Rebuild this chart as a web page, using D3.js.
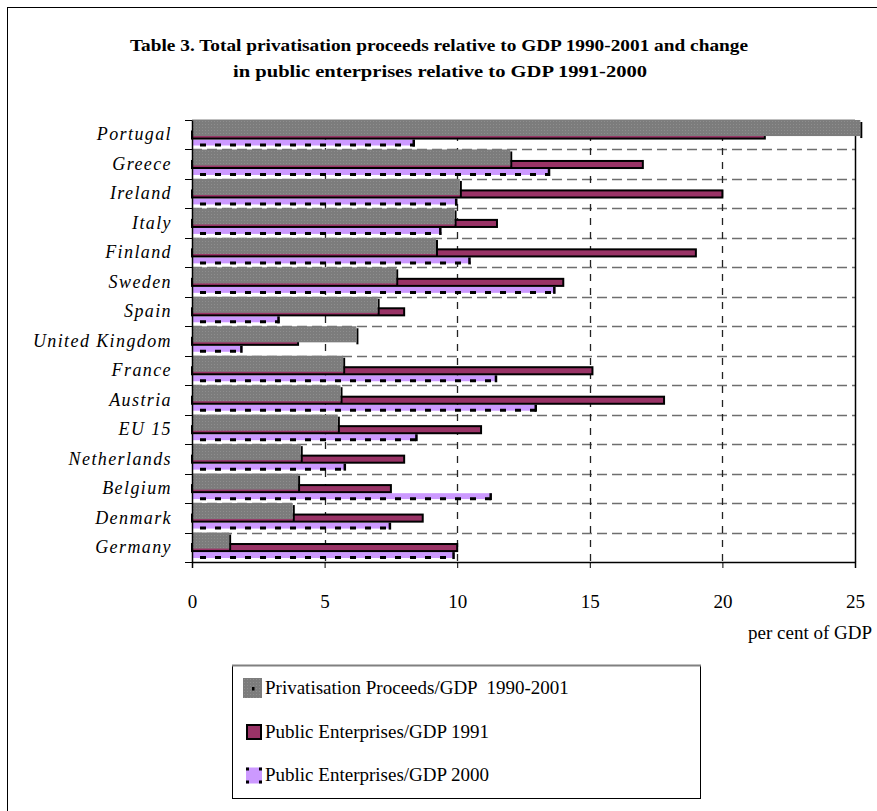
<!DOCTYPE html>
<html>
<head>
<meta charset="utf-8">
<script src="https://cdn.jsdelivr.net/npm/d3@7"></script>
<style>
  body { margin: 0; background: #fff; }
  svg text { font-family: "Liberation Serif", "Times New Roman", serif; fill: #000; }
</style>
</head>
<body>
<div id="chart"></div>
<script>
// categories top to bottom
const countries = ["Portugal", "Greece", "Ireland", "Italy", "Finland", "Sweden", "Spain",
    "United Kingdom", "France", "Austria", "EU 15", "Netherlands", "Belgium", "Denmark", "Germany"];

// Privatisation proceeds / GDP 1990-2001
const proceeds = [25.2, 12.0, 10.1, 9.9, 9.2, 7.7, 7.0, 6.2, 5.7, 5.6, 5.5, 4.1, 4.0, 3.8, 1.4];
// Public enterprises / GDP 1991
const pe1991 = [21.6, 17.0, 20.0, 11.5, 19.0, 14.0, 8.0, 4.0, 15.1, 17.8, 10.9, 8.0, 7.5, 8.7, 10.0];
// Public enterprises / GDP 2000
const pe2000 = [8.4, 13.5, 10.0, 9.4, 10.5, 13.7, 3.3, 1.9, 11.5, 13.0, 8.5, 5.8, 11.3, 7.5, 9.9];

const xTicks = [0, 5, 10, 15, 20, 25];
const seriesNames = ["Privatisation Proceeds/GDP  1990-2001", "Public Enterprises/GDP 1991", "Public Enterprises/GDP 2000"];

const W = 877, H = 811;
const plot = {left: 192, right: 855, top: 120, bottom: 562};

const svg = d3.select("#chart").append("svg")
    .attr("width", W)
    .attr("height", H);

// gray dotted fill like the original
const defs = svg.append("defs");
const pat = defs.append("pattern")
    .attr("id", "grayDots")
    .attr("width", 3).attr("height", 3)
    .attr("patternUnits", "userSpaceOnUse");
pat.append("rect").attr("width", 3).attr("height", 3).attr("fill", "#7c7c7c");
pat.append("rect").attr("x", 1).attr("y", 1).attr("width", 1).attr("height", 1).attr("fill", "#8e8e8e");

// outer frame
svg.append("line").attr("x1", 7.5).attr("y1", 7).attr("x2", 7.5).attr("y2", H).attr("stroke", "#000");
svg.append("line").attr("x1", 7).attr("y1", 7.5).attr("x2", W).attr("y2", 7.5).attr("stroke", "#000");

// title
svg.append("text")
    .attr("x", 439).attr("y", 51)
    .attr("text-anchor", "middle")
    .style("font-size", "17px").style("font-weight", "bold")
    .attr("textLength", 618).attr("lengthAdjust", "spacingAndGlyphs")
    .text("Table 3. Total privatisation proceeds relative to GDP 1990-2001 and change");
svg.append("text")
    .attr("x", 440).attr("y", 77)
    .attr("text-anchor", "middle")
    .style("font-size", "17px").style("font-weight", "bold")
    .attr("textLength", 414).attr("lengthAdjust", "spacingAndGlyphs")
    .text("in public enterprises relative to GDP 1991-2000");

const x = d3.scaleLinear()
    .domain([0, 25])
    .range([plot.left, plot.right]);

const y = d3.scaleBand()
    .domain(countries)
    .range([plot.top, plot.bottom])
    .padding(0);

const bw = y.bandwidth();

// horizontal gridlines between categories
svg.append("g").selectAll("line")
    .data(countries.slice(1))
    .join("line")
    .attr("x1", plot.left).attr("x2", plot.right)
    .attr("y1", d => Math.round(y(d)) + 0.5)
    .attr("y2", d => Math.round(y(d)) + 0.5)
    .attr("stroke", "#6e6e6e")
    .attr("stroke-width", 1.5)
    .attr("stroke-dasharray", "10,5");

// vertical gridlines
svg.append("g").selectAll("line")
    .data(xTicks.slice(1, -1))
    .join("line")
    .attr("x1", d => Math.round(x(d)) + 0.5).attr("x2", d => Math.round(x(d)) + 0.5)
    .attr("y1", plot.top).attr("y2", plot.bottom)
    .attr("stroke", "#222")
    .attr("stroke-width", 1.3)
    .attr("stroke-dasharray", "7,7");

// plot border top + right
svg.append("line").attr("x1", plot.left).attr("x2", plot.right)
    .attr("y1", plot.top + 0.5).attr("y2", plot.top + 0.5).attr("stroke", "#000").attr("stroke-width", 1.5);
svg.append("line").attr("x1", plot.right + 0.5).attr("x2", plot.right + 0.5)
    .attr("y1", plot.top).attr("y2", plot.bottom).attr("stroke", "#000").attr("stroke-width", 1.5);

const rows = countries.map((c, i) => ({country: c, p: proceeds[i], a: pe1991[i], b: pe2000[i]}));

// 2000 bars (lavender with dashed black bottom edge)
const g2000 = svg.append("g");
g2000.selectAll("rect")
    .data(rows)
    .join("rect")
    .attr("x", x(0))
    .attr("y", d => y(d.country) + bw * 0.665)
    .attr("width", d => x(d.b) - x(0))
    .attr("height", bw * 0.2)
    .attr("fill", "#cc99ff");
g2000.selectAll("line.dash")
    .data(rows)
    .join("line")
    .attr("class", "dash")
    .attr("x1", x(0)).attr("x2", d => x(d.b))
    .attr("y1", d => y(d.country) + bw * 0.85)
    .attr("y2", d => y(d.country) + bw * 0.85)
    .attr("stroke", "#000")
    .attr("stroke-width", 3)
    .attr("stroke-dasharray", "6,9")
    .attr("stroke-dashoffset", 7);
g2000.selectAll("line.end")
    .data(rows)
    .join("line")
    .attr("class", "end")
    .attr("x1", d => x(d.b) - 1).attr("x2", d => x(d.b) - 1)
    .attr("y1", d => y(d.country) + bw * 0.665)
    .attr("y2", d => y(d.country) + bw * 0.9)
    .attr("stroke", "#000")
    .attr("stroke-width", 2.5);

// 1991 bars (maroon, black outline)
svg.append("g").selectAll("rect")
    .data(rows)
    .join("rect")
    .attr("x", x(0))
    .attr("y", d => y(d.country) + bw * 0.39)
    .attr("width", d => x(d.a) - x(0))
    .attr("height", bw * 0.24)
    .attr("fill", "#993366")
    .attr("stroke", "#000")
    .attr("stroke-width", 2);

// privatisation proceeds bars (gray with a dark right edge)
const gp = svg.append("g");
gp.selectAll("rect.shadow")
    .data(rows)
    .join("rect")
    .attr("class", "shadow")
    .attr("x", d => x(d.p))
    .attr("y", d => y(d.country) + 2)
    .attr("width", 2)
    .attr("height", bw * 0.545)
    .attr("fill", "#000");
gp.selectAll("rect.bar")
    .data(rows)
    .join("rect")
    .attr("class", "bar")
    .attr("x", x(0))
    .attr("y", d => y(d.country))
    .attr("width", d => x(d.p) - x(0))
    .attr("height", bw * 0.545)
    .attr("fill", "url(#grayDots)");

// x axis
const xAxis = d3.axisBottom(x)
    .tickValues(xTicks)
    .tickSize(6)
    .tickPadding(27)
    .tickFormat(d3.format("d"));
const xg = svg.append("g")
    .attr("transform", "translate(0," + plot.bottom + ")")
    .call(xAxis);
xg.select(".domain").attr("stroke-width", 1.5);
xg.selectAll("text").style("font-size", "19px").style("font-family", "Liberation Serif");

// y axis labels
const yAxis = d3.axisLeft(y).tickSize(0).tickPadding(20);
const yg = svg.append("g")
    .attr("transform", "translate(" + plot.left + ",0)")
    .call(yAxis);
yg.select(".domain").attr("stroke-width", 1.5);
yg.selectAll("text")
    .style("font-size", "18px")
    .style("font-style", "italic")
    .style("letter-spacing", "1.4px")
    .style("font-family", "Liberation Serif");

// y ticks on category boundaries
svg.append("g").selectAll("line")
    .data(countries.concat(["__end"]))
    .join("line")
    .attr("x1", plot.left - 7).attr("x2", plot.left)
    .attr("y1", (d, i) => Math.round(plot.top + i * bw) + 0.5)
    .attr("y2", (d, i) => Math.round(plot.top + i * bw) + 0.5)
    .attr("stroke", "#000");

// axis title
svg.append("text")
    .attr("x", 872).attr("y", 639)
    .attr("text-anchor", "end")
    .style("font-size", "19px")
    .text("per cent of GDP");

// legend
const lg = svg.append("g");
lg.append("rect")
    .attr("x", 232.5).attr("y", 665.5)
    .attr("width", 468).attr("height", 133)
    .attr("fill", "#fff")
    .attr("stroke", "#000");
lg.append("line")
    .attr("x1", 232).attr("x2", 701)
    .attr("y1", 665.5).attr("y2", 665.5)
    .attr("stroke", "#808080").attr("stroke-width", 2);

const legendY = d3.scalePoint().domain(seriesNames).range([688, 775]);

// gray marker
lg.append("rect")
    .attr("x", 243).attr("y", legendY(seriesNames[0]) - 10)
    .attr("width", 19).attr("height", 20)
    .attr("fill", "url(#grayDots)");
lg.append("rect")
    .attr("x", 252).attr("y", legendY(seriesNames[0]) - 1)
    .attr("width", 2.5).attr("height", 3.5)
    .attr("fill", "#000");
// maroon marker
lg.append("rect")
    .attr("x", 247).attr("y", legendY(seriesNames[1]) - 6.5)
    .attr("width", 14).attr("height", 14)
    .attr("fill", "#993366")
    .attr("stroke", "#000").attr("stroke-width", 2);
// lavender marker
lg.append("rect")
    .attr("x", 246).attr("y", legendY(seriesNames[2]) - 7.5)
    .attr("width", 16).attr("height", 16)
    .attr("fill", "#cc99ff");
lg.selectAll("rect.corner")
    .data([[246, -7.5], [259, -7.5], [246, 5.5], [259, 5.5]])
    .join("rect")
    .attr("class", "corner")
    .attr("x", d => d[0]).attr("y", d => legendY(seriesNames[2]) + d[1])
    .attr("width", 3).attr("height", 3)
    .attr("fill", "#000");

lg.selectAll("text")
    .data(seriesNames)
    .join("text")
    .attr("x", 265)
    .attr("y", d => legendY(d) + 6)
    .style("font-size", "19px")
    .style("white-space", "pre")
    .text(d => d);
</script>
</body>
</html>
